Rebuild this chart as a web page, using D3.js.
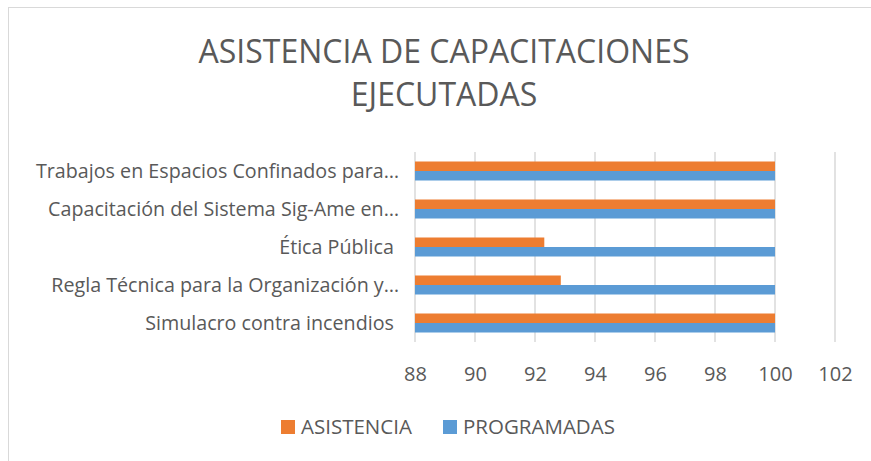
<!DOCTYPE html>
<html lang="es">
  <head>
    <meta charset="UTF-8" />
    <title>Asistencia de capacitaciones ejecutadas</title>
    <script src="https://d3js.org/d3.v7.min.js"></script>
    <style>
      body {
        margin: 0;
        background: #fff;
      }
      svg {
        font-family: "Open Sans", sans-serif;
        fill: #595959;
      }
    </style>
  </head>
  <body>
    <script>
      // categories, top to bottom as in the chart
      const categories = [
        "Trabajos en Espacios Confinados para…",
        "Capacitación del Sistema Sig-Ame en…",
        "Ética Pública ",
        "Regla Técnica para la Organización y…",
        "Simulacro contra incendios ",
      ];
      const asistencia = [100, 100, 92.31, 92.86, 100];
      const programadas = [100, 100, 100, 100, 100];
      const xTicks = [88, 90, 92, 94, 96, 98, 100, 102];
      const titleLines = ["ASISTENCIA DE CAPACITACIONES", "EJECUTADAS"];
      const seriesNames = ["ASISTENCIA", "PROGRAMADAS"];
      const colors = ["#ed7d31", "#5b9bd5"];

      const width = 871;
      const height = 461;
      const plot = { left: 415, right: 835, top: 152, bottom: 342 };

      const svg = d3
        .select("body")
        .append("svg")
        .attr("width", width)
        .attr("height", height);

      // chart frame
      svg
        .append("rect")
        .attr("x", 8.5)
        .attr("y", 7.5)
        .attr("width", width + 20)
        .attr("height", height + 20)
        .attr("fill", "#fff")
        .attr("stroke", "#d9d9d9");

      // title
      svg
        .append("g")
        .selectAll("text")
        .data(titleLines)
        .join("text")
        .attr("x", 444)
        .attr("y", (d, i) => 63 + i * 43)
        .attr("text-anchor", "middle")
        .attr("font-size", 32)
        .text((d) => d);

      const x = d3.scaleLinear().domain([88, 102]).range([plot.left, plot.right]);
      const y = d3
        .scaleBand()
        .domain(categories)
        .range([plot.top, plot.bottom])
        .paddingInner(0.5)
        .paddingOuter(0.25);
      const inner = d3
        .scaleBand()
        .domain(seriesNames)
        .range([0, y.bandwidth()]);

      // gridlines
      svg
        .append("g")
        .selectAll("line")
        .data(xTicks)
        .join("line")
        .attr("x1", (d) => x(d))
        .attr("x2", (d) => x(d))
        .attr("y1", plot.top)
        .attr("y2", plot.bottom)
        .attr("stroke", "#d9d9d9")
        .attr("stroke-width", 1.5);

      // bars
      const series = [asistencia, programadas];
      series.forEach((values, s) => {
        svg
          .append("g")
          .attr("fill", colors[s])
          .selectAll("rect")
          .data(categories)
          .join("rect")
          .attr("x", x(88))
          .attr("y", (d) => y(d) + inner(seriesNames[s]))
          .attr("width", (d, i) => x(values[i]) - x(88))
          .attr("height", inner.bandwidth());
      });

      // x axis labels
      const xAxis = svg
        .append("g")
        .attr("transform", `translate(0,${plot.bottom + 19})`)
        .call(d3.axisBottom(x).tickValues(xTicks).tickSize(0).tickPadding(6));
      xAxis.select(".domain").remove();
      xAxis
        .selectAll("text")
        .attr("font-size", 20)
        .attr("font-family", "Open Sans, sans-serif")
        .attr("fill", "#595959");

      // category labels
      const yAxis = svg
        .append("g")
        .attr("transform", `translate(${plot.left},0)`)
        .call(d3.axisLeft(y).tickSize(0).tickPadding(16));
      yAxis.select(".domain").remove();
      yAxis
        .selectAll("text")
        .attr("font-size", 19.7)
        .attr("font-family", "Open Sans, sans-serif")
        .attr("fill", "#595959")
        .attr("dy", "0.35em")
        .style("white-space", "pre");

      // legend
      const legendX = [281, 443];
      const legend = svg
        .append("g")
        .selectAll("g")
        .data(seriesNames)
        .join("g")
        .attr("transform", (d, i) => `translate(${legendX[i]},420)`);
      legend
        .append("rect")
        .attr("width", 14)
        .attr("height", 14)
        .attr("fill", (d, i) => colors[i]);
      legend
        .append("text")
        .attr("x", 20)
        .attr("y", 14)
        .attr("font-size", 20.5)
        .text((d) => d);
    </script>
  </body>
</html>
